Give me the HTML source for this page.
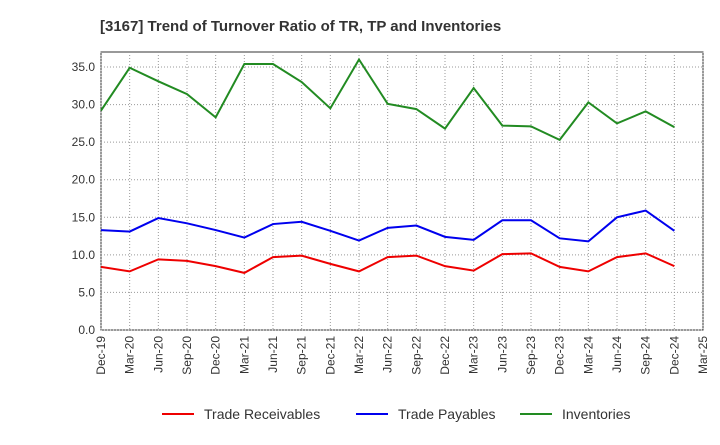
<!DOCTYPE html>
<html><head><meta charset="utf-8"><style>
body{margin:0;background:#fff;font-family:"Liberation Sans",sans-serif}
</style></head><body>
<svg id="c" width="720" height="440" xmlns="http://www.w3.org/2000/svg">
<text x="100" y="31" font-size="15" font-weight="bold" fill="#333">[3167]  Trend of Turnover Ratio of TR, TP and Inventories</text>
</svg>
<script>
const tickLabels=["Dec-19","Mar-20","Jun-20","Sep-20","Dec-20","Mar-21","Jun-21","Sep-21","Dec-21","Mar-22","Jun-22","Sep-22","Dec-22","Mar-23","Jun-23","Sep-23","Dec-23","Mar-24","Jun-24","Sep-24","Dec-24","Mar-25"];
const yTicks=[0,5,10,15,20,25,30,35];
const receivables=[8.4,7.8,9.4,9.2,8.5,7.6,9.7,9.9,8.8,7.8,9.7,9.9,8.5,7.9,10.1,10.2,8.4,7.8,9.7,10.2,8.5];
const payables=[13.3,13.1,14.9,14.2,13.3,12.3,14.1,14.4,13.2,11.9,13.6,13.9,12.4,12.0,14.6,14.6,12.2,11.8,15.0,15.9,13.2];
const inventories=[29.2,34.9,33.1,31.4,28.3,35.4,35.4,33.0,29.5,36.0,30.1,29.4,26.8,32.2,27.2,27.1,25.3,30.3,27.5,29.1,27.0];
const svg=document.getElementById('c');const NS="http://www.w3.org/2000/svg";
const L=101,R=703,T=52,B=330,yMax=37;
const x=i=>L+i*(R-L)/(tickLabels.length-1);
const y=v=>B-v*(B-T)/yMax;
function mk(t,a,p){const e=document.createElementNS(NS,t);for(const k in a)e.setAttribute(k,a[k]);(p||svg).appendChild(e);return e;}
const bg=mk('rect',{x:L,y:T,width:R-L,height:B-T,fill:'#fff',stroke:'#333','stroke-width':1});


tickLabels.forEach((t,i)=>{
 const g=mk('line',{x1:x(i),x2:x(i),y1:T,y2:B,stroke:'#999','stroke-dasharray':'1,2'});
 
 
 const tx=mk('text',{x:0,y:0,'font-size':12,fill:'#333','text-anchor':'end',transform:`translate(${x(i)+4},${B+6}) rotate(-90)`});
 tx.textContent=t;
 
 
});
yTicks.forEach(v=>{
 const g=mk('line',{x1:L,x2:R,y1:y(v),y2:y(v),stroke:'#999','stroke-dasharray':'1,2'});
 
 
 const tx=mk('text',{x:L-6,y:y(v)+4,'font-size':12,fill:'#333','text-anchor':'end'});
 tx.textContent=v.toFixed(1);
 
 
});
function series(d,c,n){
 const p=mk('polyline',{points:d.map((v,i)=>x(i)+','+y(v)).join(' '),fill:'none',stroke:c,'stroke-width':2});
 
 
}
series(receivables,'#e00','trade-receivables-line');
series(payables,'#00e','trade-payables-line');
series(inventories,'#228b22','inventories-line');
[["Trade Receivables",'#e00',162],["Trade Payables",'#00e',356],["Inventories",'#228b22',520]].forEach(([t,c,lx])=>{
 const g=mk('g',{});
 
 
 mk('line',{x1:lx,x2:lx+32,y1:414,y2:414,stroke:c,'stroke-width':2},g);
 const tx=mk('text',{x:lx+42,y:419,'font-size':14,fill:'#333'},g);tx.textContent=t;
});
</script>
</body></html>
